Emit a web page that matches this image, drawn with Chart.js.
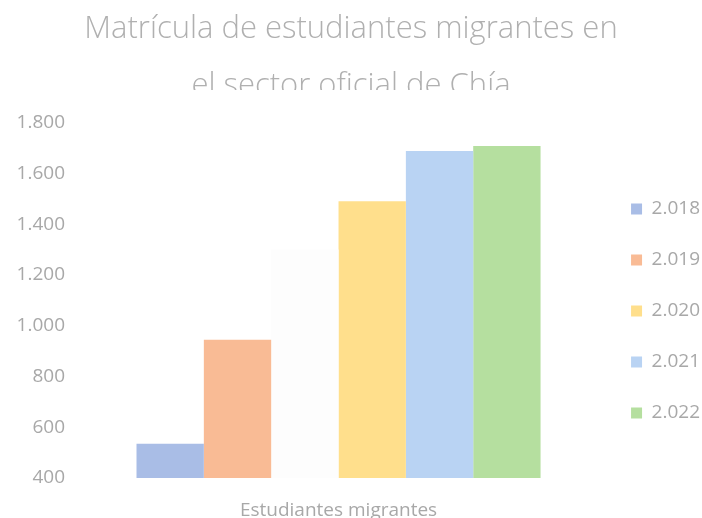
<!DOCTYPE html>
<html>
<head>
<meta charset="utf-8">
<script src="https://cdn.jsdelivr.net/npm/chart.js@4"></script>
<style>
  html, body { margin: 0; padding: 0; background: #fff; }
  #wrap { width: 702px; height: 518px; }
</style>
</head>
<body>
<div id="wrap"><canvas id="matricula"></canvas></div>
<script>
// data
const categories = ['Estudiantes migrantes'];
const years = ['2.018', '2.019', '', '2.020', '2.021', '2.022'];
const values = [535, 945, 1300, 1490, 1688, 1708];
const colors = ['#a9bde6', '#f9bb95', '#fdfdfd', '#ffdf8c', '#b9d3f3', '#b5df9f'];
const yTicks = [400, 600, 800, 1000, 1200, 1400, 1600, 1800];

const grey = '#a8a8a8';
const font = '"Open Sans", "DejaVu Sans", sans-serif';

// spanish style thousands separator
function fmt(v) {
  return v >= 1000 ? Math.floor(v / 1000) + '.' + String(v % 1000).padStart(3, '0') : String(v);
}

// legend sits lower and a bit more right in the original
const moveLegend = {
  id: 'moveLegend',
  afterLayout(chart) {
    const lg = chart.legend;
    lg.top += 52; lg.bottom += 52;
    lg.left += 8; lg.right += 8;
  }
};

// the second title line is cut in the original
const cutTitle = {
  id: 'cutTitle',
  afterDraw(chart) {
    const c = chart.ctx;
    c.save();
    c.fillStyle = '#fff';
    c.fillRect(0, 90, chart.width, 20);
    c.restore();
  }
};

const datasets = years.map((y, i) => ({
  label: y,
  data: [values[i]],
  backgroundColor: colors[i],
  borderWidth: 0
}));

new Chart(document.getElementById('matricula'), {
  type: 'bar',
  data: { labels: categories, datasets: datasets },
  plugins: [moveLegend, cutTitle],
  options: {
    responsive: true,
    maintainAspectRatio: false,
    animation: false,
    layout: { padding: 0 },
    datasets: { bar: { categoryPercentage: 0.8, barPercentage: 1 } },
    plugins: {
      title: {
        display: true,
        text: ['Matrícula de estudiantes migrantes en', 'el sector oficial de Chía'],
        color: '#b0b0b0',
        font: { family: font, size: 31, weight: '300', lineHeight: 1.85 },
        padding: { top: 0, bottom: 8 }
      },
      legend: {
        position: 'right',
        labels: {
          color: grey,
          font: { family: font, size: 19 },
          boxWidth: 11,
          boxHeight: 11,
          padding: 32,
          filter: item => item.text !== ''
        }
      },
      tooltip: { enabled: false }
    },
    scales: {
      x: {
        grid: { display: false },
        border: { display: false },
        afterFit: s => { s.height = 40; },
        ticks: { color: grey, font: { family: font, size: 19 }, padding: 13 }
      },
      y: {
        min: yTicks[0],
        max: yTicks[yTicks.length - 1],
        grid: { display: false },
        border: { display: false },
        afterBuildTicks: s => { s.ticks = yTicks.map(v => ({ value: v })); },
        afterFit: s => { s.width = 86; },
        ticks: {
          color: grey,
          font: { family: font, size: 19 },
          padding: 13,
          callback: v => fmt(v)
        }
      }
    }
  }
});
</script>
</body>
</html>
